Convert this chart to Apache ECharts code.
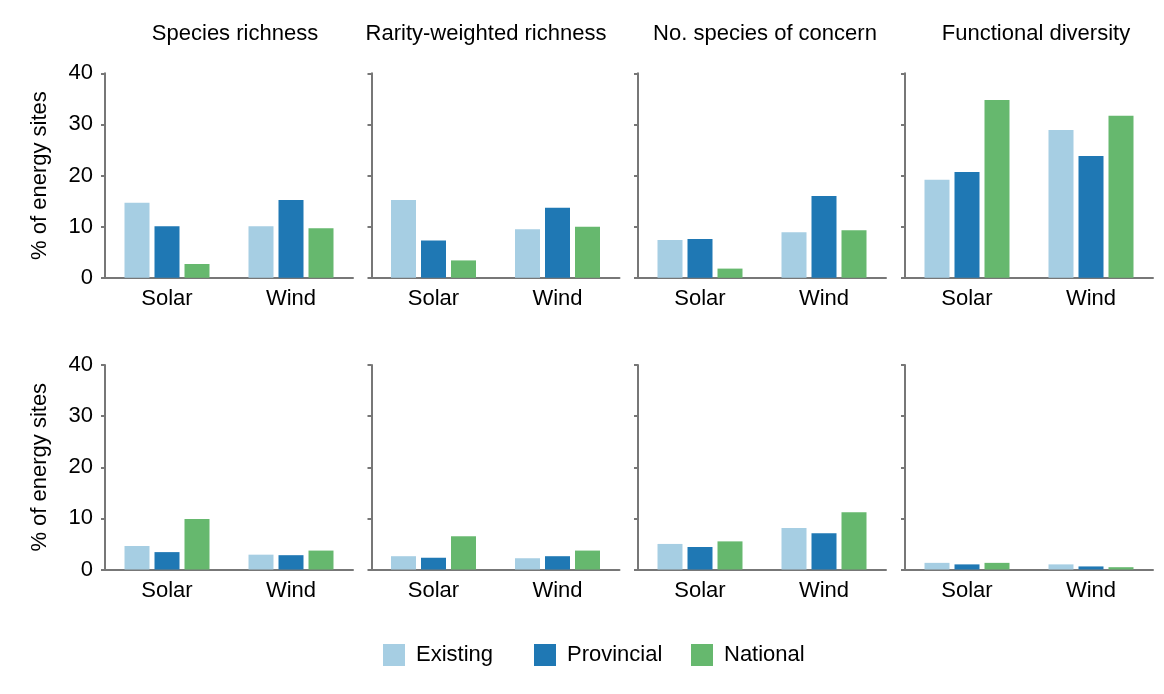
<!DOCTYPE html>
<html>
<head>
<meta charset="utf-8">
<script src="https://cdn.jsdelivr.net/npm/echarts@6/dist/echarts.min.js"></script>
<style>html,body{margin:0;padding:0;background:#fff;}#c{width:1164px;height:694px;}</style>
</head>
<body>
<div id="c"></div>
<script>
const categories = ['Solar', 'Wind'];
const panelTitles = ['Species richness', 'Rarity-weighted richness', 'No. species of concern', 'Functional diversity'];
const seriesNames = ['Existing', 'Provincial', 'National'];
const yAxisName = '% of energy sites';
const yMin = 0, yMax = 40, yInterval = 10;

// Top row: per panel, [Solar, Wind]
const topExisting   = [[14.7, 10.1], [15.2, 9.5], [7.4, 8.9], [19.2, 28.9]];
const topProvincial = [[10.1, 15.2], [7.3, 13.7], [7.6, 16.0], [20.7, 23.8]];
const topNational   = [[2.7, 9.7],  [3.4, 10.0], [1.8, 9.3], [34.8, 31.7]];
// Bottom row
const botExisting   = [[4.6, 2.9], [2.6, 2.2], [5.0, 8.1], [1.3, 1.0]];
const botProvincial = [[3.4, 2.8], [2.3, 2.6], [4.4, 7.1], [1.0, 0.6]];
const botNational   = [[9.9, 3.7], [6.5, 3.7], [5.5, 11.2], [1.3, 0.45]];

const colors = ['#a6cee3', '#1f78b4', '#66b86e'];
const font = 'Liberation Sans, Arial, sans-serif';
const axisColor = '#777777';
const fs = 22;

const rows = [
  [topExisting, topProvincial, topNational],
  [botExisting, botProvincial, botNational]
];
const rowTops = [73.3, 365];
const gridH = 204.5;
const gridW = 248;
const colLefts = [105, 371.5, 638, 905];
const titleCenters = [230, 481, 760, 1031];
const legendLefts = [383, 534, 691];

const grids = [], xAxes = [], yAxes = [], series = [], titles = [], legends = [];
let gi = 0;
for (let r = 0; r < 2; r++) {
  for (let c = 0; c < 4; c++) {
    grids.push({ left: colLefts[c], top: rowTops[r], width: gridW, height: gridH });
    xAxes.push({
      type: 'category', gridIndex: gi, data: categories,
      axisLine: { lineStyle: { color: axisColor, width: 2 } },
      axisTick: { show: false },
      axisLabel: { fontSize: fs, color: '#000', fontFamily: font, margin: 10 }
    });
    yAxes.push({
      type: 'value', gridIndex: gi, min: yMin, max: yMax, interval: yInterval,
      axisLine: { show: true, lineStyle: { color: axisColor, width: 2 } },
      axisTick: { show: true, length: 4, lineStyle: { color: axisColor, width: 2 } },
      axisLabel: { show: c === 0, fontSize: fs, color: '#000', fontFamily: font, margin: 12 },
      splitLine: { show: false },
      name: c === 0 ? yAxisName : '',
      nameLocation: 'middle', nameGap: 54, nameRotate: 90,
      nameTextStyle: { fontSize: fs, color: '#000', fontFamily: font }
    });
    for (let s = 0; s < 3; s++) {
      series.push({
        type: 'bar', name: seriesNames[s], xAxisIndex: gi, yAxisIndex: gi,
        data: rows[r][s][c], barWidth: 25, barGap: '20%',
        itemStyle: { color: colors[s] }, animation: false
      });
    }
    gi++;
  }
}
for (let c = 0; c < 4; c++) {
  titles.push({
    text: panelTitles[c], left: titleCenters[c], top: 18, textAlign: 'center',
    textStyle: { fontSize: fs, fontWeight: 'normal', color: '#000', fontFamily: font }
  });
}
for (let s = 0; s < 3; s++) {
  legends.push({
    data: [seriesNames[s]], left: legendLefts[s], top: 644, padding: 0,
    icon: 'rect', itemWidth: 22, itemHeight: 22,
    textStyle: { fontSize: fs, color: '#000', fontFamily: font, padding: [0, 0, 0, 6] }
  });
}

const chart = echarts.init(document.getElementById('c'), null, { renderer: 'canvas' });
chart.setOption({
  animation: false,
  title: titles,
  grid: grids,
  xAxis: xAxes,
  yAxis: yAxes,
  series: series,
  legend: legends
});
</script>
</body>
</html>
